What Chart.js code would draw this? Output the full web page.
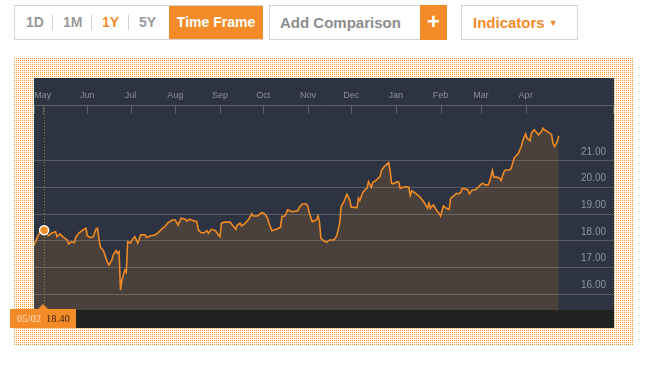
<!DOCTYPE html>
<html>
<head>
<meta charset="utf-8">
<script src="https://cdn.jsdelivr.net/npm/chart.js@4.4.1/dist/chart.umd.min.js"></script>
<style>
  body { margin: 0; width: 656px; height: 371px; background: #fff; font-family: "Liberation Sans", Arial, sans-serif; position: relative; overflow: hidden; }
  .box { position: absolute; top: 5px; height: 35px; border: 1px solid #d4d4d4; box-sizing: border-box; }
  .tf span { position: absolute; top: 0; line-height: 33px; font-weight: bold; font-size: 14px; color: #9a9a9a; }
  .tf .sep { width: 1px; height: 15px; top: 9px; background: #d0d0d0; }
  .orange { background: #f48b29; color: #fff !important; }
  .pattern { position: absolute; left: 14px; top: 58px; width: 619px; height: 288px;
    background-image: url("data:image/svg+xml,%3Csvg xmlns='http://www.w3.org/2000/svg' width='2' height='2'%3E%3Crect width='1' height='1' fill='%23f6921e'/%3E%3C/svg%3E");
    background-size: 2px 2px; }
  .panel { position: absolute; left: 34px; top: 78px; width: 580px; height: 250px; background: #2d3340; }
  .foot { position: absolute; left: 34px; top: 310px; width: 580px; height: 18px; background: #222222; }
  .lbl { position: absolute; left: 10px; top: 309px; width: 66px; height: 19px; background: #f48b29;
    font-family: "Liberation Serif", serif; font-size: 10.5px; line-height: 19px; }
  .lbl:before { content: ""; position: absolute; left: 28px; top: -5px; border-left: 5px solid transparent; border-right: 5px solid transparent; border-bottom: 5px solid #f48b29; }
  #wrap { position: absolute; left: 34px; top: 78px; width: 580px; height: 232px; }
</style>
</head>
<body>
<div class="box tf" style="left:14px;width:249px;">
  <span style="left:11px">1D</span>
  <span class="sep" style="left:37px"></span>
  <span style="left:48px">1M</span>
  <span class="sep" style="left:76px"></span>
  <span style="left:87px;color:#f48b29">1Y</span>
  <span class="sep" style="left:113px"></span>
  <span style="left:124px">5Y</span>
  <span class="orange" style="left:154px;width:94px;text-align:center;">Time Frame</span>
</div>
<div class="box" style="left:269px;width:178px;">
  <span style="position:absolute;left:10px;line-height:33px;font-weight:bold;font-size:15px;color:#8c8c8c;">Add Comparison</span>
  <span class="orange" style="position:absolute;right:-1px;top:-1px;width:27px;height:35px;line-height:34px;text-align:center;font-weight:bold;font-size:22px;">+</span>
</div>
<div class="box" style="left:461px;width:117px;">
  <span style="position:absolute;left:11px;line-height:33px;font-weight:bold;font-size:15px;color:#f48b29;">Indicators <span style="font-size:9px;position:relative;top:-2px">&#9660;</span></span>
</div>

<div class="pattern"></div>
<div class="panel"></div>
<div class="foot"></div>
<div id="wrap"><canvas id="chart"></canvas></div>
<div class="lbl"><span style="position:absolute;left:7px;color:#fde2c4">05/02</span><span style="position:absolute;left:36px;color:#3a2308">18.40</span></div>

<script>
const days = [-6, -4, -2, 1, 4, 6, 9, 10, 12, 14, 17, 18, 20, 22, 23, 25, 28, 30, 31, 33, 35, 37, 38, 39, 40, 42, 43, 45, 46, 48, 49, 51, 52, 53, 54, 55, 57, 58, 59, 61, 62, 64, 66, 68, 71, 72, 75, 78, 80, 82, 85, 87, 90, 92, 94, 96, 99, 100, 102, 104, 107, 108, 110, 112, 114, 115, 117, 120, 121, 123, 124, 126, 130, 132, 134, 135, 137, 138, 140, 143, 145, 146, 149, 152, 154, 156, 157, 159, 162, 165, 166, 168, 170, 173, 177, 178, 180, 183, 184, 185, 187, 189, 190, 191, 192, 193, 195, 197, 199, 202, 204, 206, 207, 209, 211, 213, 214, 216, 218, 219, 220, 222, 224, 225, 226, 228, 229, 231, 234, 235, 237, 240, 241, 242, 243, 246, 247, 248, 250, 252, 254, 255, 256, 258, 261, 263, 265, 267, 268, 269, 271, 272, 273, 274, 275, 276, 278, 280, 282, 283, 285, 287, 288, 290, 291, 293, 295, 296, 298, 300, 302, 303, 305, 307, 309, 310, 312, 313, 315, 317, 318, 320, 321, 324, 325, 327, 329, 330, 332, 333, 335, 336, 338, 339, 341, 343, 344, 346, 347, 348, 351, 353, 354, 355, 357, 358];
const prices = [17.82, 18.09, 18.32, 18.40, 18.19, 18.28, 18.34, 18.15, 18.26, 18.15, 18.03, 17.88, 17.97, 17.93, 18.13, 18.28, 18.41, 18.47, 18.19, 18.12, 18.15, 18.44, 18.47, 18.09, 17.76, 17.65, 17.49, 17.19, 17.09, 17.28, 17.47, 17.63, 17.53, 17.59, 16.15, 16.53, 16.90, 16.82, 17.97, 17.91, 18.03, 18.15, 17.91, 18.22, 18.22, 18.12, 18.19, 18.22, 18.30, 18.41, 18.55, 18.68, 18.78, 18.78, 18.59, 18.85, 18.81, 18.74, 18.81, 18.76, 18.72, 18.41, 18.30, 18.30, 18.38, 18.28, 18.43, 18.38, 18.28, 18.15, 18.66, 18.70, 18.70, 18.56, 18.43, 18.59, 18.66, 18.56, 18.63, 18.81, 19.01, 18.93, 18.93, 19.06, 19.01, 18.85, 18.66, 18.38, 18.43, 18.51, 18.91, 18.93, 19.16, 19.09, 19.13, 19.25, 19.38, 19.38, 19.28, 19.03, 18.72, 18.76, 18.81, 18.94, 18.72, 18.09, 18.00, 17.94, 18.03, 18.03, 18.18, 18.66, 19.28, 19.47, 19.75, 19.53, 19.26, 19.26, 19.24, 19.60, 19.51, 19.81, 19.94, 19.97, 20.22, 20.01, 20.20, 20.26, 20.41, 20.64, 20.79, 20.94, 20.64, 20.16, 20.14, 20.22, 20.20, 19.97, 20.01, 20.03, 20.01, 19.70, 19.88, 19.81, 19.68, 19.56, 19.41, 19.22, 19.41, 19.22, 19.35, 19.26, 19.16, 19.09, 19.03, 18.93, 19.31, 19.22, 19.18, 19.60, 19.68, 19.78, 19.76, 19.81, 19.97, 19.95, 19.91, 19.76, 19.91, 19.91, 20.00, 20.06, 20.16, 20.10, 20.10, 20.22, 20.64, 20.39, 20.39, 20.35, 20.26, 20.60, 20.66, 20.66, 20.72, 21.10, 21.23, 21.29, 21.54, 21.76, 22.02, 21.85, 21.76, 22.04, 22.17, 22.04, 21.98, 22.10, 22.23, 22.17, 22.07, 21.98, 21.66, 21.54, 21.73, 21.94];

const monthLabels = ['May', 'Jun', 'Jul', 'Aug', 'Sep', 'Oct', 'Nov', 'Dec', 'Jan', 'Feb', 'Mar', 'Apr'];
const monthDays = [0, 31, 61, 92, 123, 153, 184, 214, 245, 276, 304, 335];
const priceTicks = [16, 17, 18, 19, 20, 21];
const markerDay = 1; // 05/02

const markerIndex = days.indexOf(markerDay);

// vertical tick marks under the top axis line + dotted crosshair
const decorations = {
  id: 'decorations',
  beforeDatasetsDraw(chart) {
    const { ctx, chartArea, scales: { x } } = chart;
    ctx.save();
    ctx.strokeStyle = '#5d626a';
    ctx.lineWidth = 1;
    const marks = [x.min, ...monthDays, x.max];
    marks.forEach(d => {
      const px = Math.min(Math.round(x.getPixelForValue(d)), chartArea.right - 1) + 0.5;
      ctx.beginPath();
      ctx.moveTo(px, chartArea.top);
      ctx.lineTo(px, chartArea.top + 9);
      ctx.stroke();
    });
    const cx = Math.round(x.getPixelForValue(markerDay)) + 0.5;
    ctx.strokeStyle = '#9a7a35';
    ctx.setLineDash([1, 2]);
    ctx.beginPath();
    ctx.moveTo(cx, chartArea.top);
    ctx.lineTo(cx, chartArea.bottom);
    ctx.stroke();
    ctx.restore();
  }
};

// no extra room around the plot: the panel edges are the plot edges
const noPad = s => { s.paddingLeft = 0; s.paddingRight = 0; s.paddingTop = 0; s.paddingBottom = 0; };

new Chart(document.getElementById('chart'), {
  type: 'line',
  data: {
    datasets: [{
      data: days.map((d, i) => ({ x: d, y: prices[i] })),
      borderColor: '#f08a24',
      borderWidth: 1.6,
      backgroundColor: 'rgba(242, 140, 40, 0.15)',
      fill: 'start',
      tension: 0,
      pointRadius: c => c.dataIndex === markerIndex ? 4.5 : 0,
      pointBackgroundColor: '#f48b29',
      pointBorderColor: '#ffffff',
      pointBorderWidth: 1.5
    }]
  },
  options: {
    responsive: true,
    maintainAspectRatio: false,
    animation: false,
    layout: { padding: 0 },
    plugins: { legend: { display: false }, tooltip: { enabled: false } },
    scales: {
      x: {
        type: 'linear',
        position: 'top',
        min: -6,
        max: 396.3,
        afterBuildTicks: s => { s.ticks = monthDays.map(v => ({ value: v })); },
        afterFit: s => { s.height = 27; noPad(s); },
        grid: { drawOnChartArea: false, drawTicks: false },
        border: { color: '#5d626a', width: 1 },
        ticks: {
          autoSkip: false,
          maxRotation: 0,
          padding: 4,
          color: '#8b9099',
          font: { family: 'Liberation Sans', size: 9 },
          callback: v => monthLabels[monthDays.indexOf(v)]
        }
      },
      y: {
        position: 'right',
        min: 15.4,
        max: 23.1,
        afterBuildTicks: s => { s.ticks = priceTicks.map(v => ({ value: v })); },
        afterFit: s => { s.width = 0; noPad(s); },
        grid: { color: 'rgba(255, 255, 255, 0.2)', drawTicks: false },
        border: { display: false },
        ticks: {
          mirror: true,
          padding: -8,
          labelOffset: -9,
          color: '#9096a0',
          font: { family: 'Liberation Sans', size: 10 },
          callback: v => v.toFixed(2)
        }
      }
    }
  },
  plugins: [decorations]
});
</script>
</body>
</html>
